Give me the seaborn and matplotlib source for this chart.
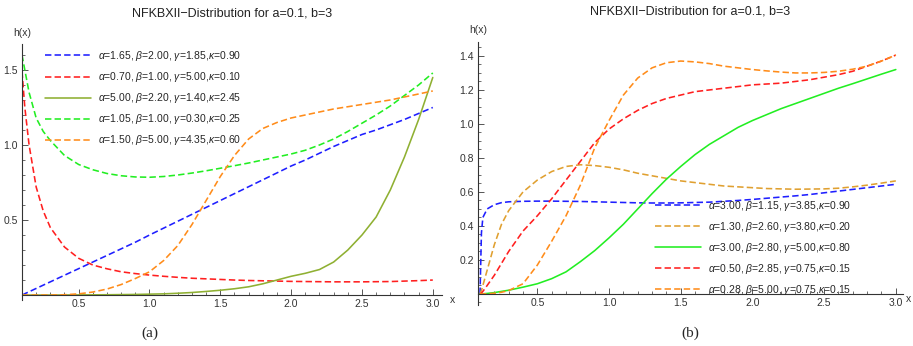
import matplotlib
matplotlib.use("Agg")
import matplotlib.pyplot as plt
import seaborn as sns
from matplotlib.ticker import MultipleLocator, FuncFormatter

# common x grid (both panels)
x_vals = [0.1, 0.11, 0.12, 0.15, 0.2, 0.25, 0.3, 0.4, 0.5, 0.6, 0.7, 0.8, 0.9, 1.0,
          1.1, 1.2, 1.3, 1.4, 1.5, 1.6, 1.7, 1.8, 1.9, 2.0, 2.1, 2.2, 2.3, 2.4, 2.5,
          2.6, 2.7, 2.8, 2.9, 3.0]

# panel (a)
a_blue = [0, 0.004, 0.009, 0.022, 0.044, 0.066, 0.088, 0.132, 0.176, 0.22, 0.264, 0.308, 0.352, 0.40,
          0.446, 0.492, 0.538, 0.584, 0.63, 0.676, 0.722, 0.768, 0.814, 0.86, 0.90, 0.945, 0.99, 1.03, 1.07,
          1.10, 1.135, 1.17, 1.21, 1.25]
a_red = [1.49, 1.37, 1.25, 1.0, 0.72, 0.56, 0.45, 0.32, 0.245, 0.2, 0.175, 0.155, 0.143, 0.133,
         0.125, 0.118, 0.112, 0.108, 0.104, 0.1, 0.097, 0.095, 0.093, 0.091, 0.09, 0.089, 0.088, 0.088, 0.088,
         0.089, 0.09, 0.093, 0.096, 0.1]
a_olive = [0, 0, 0, 0, 0, 0, 0, 0.0005, 0.001, 0.0015, 0.002, 0.003, 0.004, 0.006,
           0.008, 0.012, 0.017, 0.024, 0.032, 0.042, 0.055, 0.075, 0.1, 0.125, 0.145, 0.17, 0.22, 0.30, 0.40,
           0.52, 0.70, 0.92, 1.17, 1.45]
a_green = [1.6, 1.55, 1.5, 1.35, 1.18, 1.09, 1.03, 0.93, 0.87, 0.835, 0.81, 0.795, 0.787, 0.785,
           0.79, 0.80, 0.813, 0.828, 0.845, 0.862, 0.88, 0.9, 0.92, 0.94, 0.965, 1.0, 1.04, 1.09, 1.145,
           1.2, 1.26, 1.33, 1.40, 1.48]
a_orange = [0, 0, 0, 0, 0, 0, 0, 0.002, 0.008, 0.02, 0.04, 0.07, 0.11, 0.155,
            0.23, 0.33, 0.47, 0.63, 0.79, 0.93, 1.04, 1.11, 1.15, 1.18, 1.20, 1.22, 1.24, 1.255, 1.27,
            1.285, 1.30, 1.32, 1.34, 1.36]
a_labels = [r"$\alpha$=1.65, $\beta$=2.00, $\gamma$=1.85,$\kappa$=0.90",
            r"$\alpha$=0.70, $\beta$=1.00, $\gamma$=5.00,$\kappa$=0.10",
            r"$\alpha$=5.00, $\beta$=2.20, $\gamma$=1.40,$\kappa$=2.45",
            r"$\alpha$=1.05, $\beta$=1.00, $\gamma$=0.30,$\kappa$=0.25",
            r"$\alpha$=1.50, $\beta$=5.00, $\gamma$=4.35,$\kappa$=0.60"]

# panel (b)
b_blue = [0, 0.36, 0.45, 0.5, 0.525, 0.537, 0.542, 0.545, 0.546, 0.546, 0.545, 0.544, 0.542, 0.54,
          0.538, 0.536, 0.535, 0.535, 0.536, 0.538, 0.54, 0.545, 0.55, 0.556, 0.563, 0.57, 0.577, 0.585, 0.595,
          0.605, 0.615, 0.625, 0.635, 0.645]
b_gold = [0, 0.02, 0.05, 0.14, 0.29, 0.41, 0.49, 0.6, 0.67, 0.72, 0.75, 0.76, 0.755, 0.745,
          0.73, 0.71, 0.695, 0.68, 0.665, 0.655, 0.645, 0.635, 0.63, 0.625, 0.62, 0.618, 0.616, 0.617, 0.618,
          0.622, 0.63, 0.64, 0.652, 0.665]
b_green = [0, 0.0005, 0.001, 0.003, 0.008, 0.015, 0.022, 0.04, 0.06, 0.09, 0.13, 0.19, 0.255, 0.33,
           0.41, 0.5, 0.59, 0.675, 0.75, 0.82, 0.88, 0.93, 0.98, 1.02, 1.055, 1.09, 1.12, 1.15, 1.18,
           1.21, 1.237, 1.265, 1.293, 1.32]
b_red = [0, 0.005, 0.015, 0.05, 0.11, 0.18, 0.25, 0.37, 0.46, 0.56, 0.67, 0.78, 0.89, 0.97,
         1.03, 1.08, 1.12, 1.15, 1.17, 1.19, 1.2, 1.21, 1.22, 1.23, 1.235, 1.24, 1.25, 1.26, 1.275,
         1.29, 1.31, 1.34, 1.37, 1.405]
b_orange = [0, 0, 0, 0.001, 0.004, 0.01, 0.02, 0.06, 0.17, 0.31, 0.46, 0.64, 0.86, 1.02,
            1.17, 1.27, 1.33, 1.36, 1.37, 1.365, 1.355, 1.34, 1.33, 1.32, 1.312, 1.305, 1.30, 1.30, 1.303,
            1.31, 1.322, 1.34, 1.37, 1.405]
b_labels = [r"$\alpha$=3.00, $\beta$=1.15, $\gamma$=3.85,$\kappa$=0.90",
            r"$\alpha$=1.30, $\beta$=2.60, $\gamma$=3.80,$\kappa$=0.20",
            r"$\alpha$=3.00, $\beta$=2.80, $\gamma$=5.00,$\kappa$=0.80",
            r"$\alpha$=0.50, $\beta$=2.85, $\gamma$=0.75,$\kappa$=0.15",
            r"$\alpha$=0.28, $\beta$=5.00, $\gamma$=0.75,$\kappa$=0.15"]

title = "NFKBXII\u2212Distribution for a=0.1, b=3"
DASH = (0, (4, 2))

sns.set_style("white")
plt.rcParams['font.family'] = ['Liberation Sans', 'DejaVu Sans']
plt.rcParams['mathtext.fontset'] = 'custom'
plt.rcParams['mathtext.rm'] = 'Liberation Sans'
plt.rcParams['mathtext.it'] = 'Liberation Sans:italic'


def draw_panel(ax, series, labels, xlim, ylim, ymajor, yminor, xlab_pos):
    for (y, color, ls), lab in zip(series, labels):
        sns.lineplot(x=x_vals, y=y, ax=ax, color=color, linestyle=ls, lw=1.15, label=lab)
    ax.set_xlim(*xlim)
    ax.set_ylim(*ylim)
    ax.spines['bottom'].set_position(('data', 0))
    for s in ['top', 'right']:
        ax.spines[s].set_visible(False)
    for s in ['left', 'bottom']:
        ax.spines[s].set_color('#333333')
        ax.spines[s].set_linewidth(0.8)
    ax.xaxis.set_major_locator(MultipleLocator(0.5))
    ax.xaxis.set_minor_locator(MultipleLocator(0.1))
    ax.yaxis.set_major_locator(MultipleLocator(ymajor))
    ax.yaxis.set_minor_locator(MultipleLocator(yminor))
    fmt = FuncFormatter(lambda v, p: '' if abs(v) < 1e-9 else f'{v:.1f}')
    ax.xaxis.set_major_formatter(fmt)
    ax.yaxis.set_major_formatter(fmt)
    ax.tick_params(which='both', bottom=True, left=True, top=False, right=False)
    ax.tick_params(which='major', direction='in', length=4, width=0.7, color='#555555',
                   labelsize=7.5, labelcolor='#333333', pad=3)
    ax.tick_params(which='minor', direction='in', length=2.2, width=0.6, color='#555555')
    ax.set_xlabel('')
    ax.set_ylabel('')
    ax.text(0, 1.025, 'h(x)', transform=ax.transAxes, ha='center', va='bottom',
            fontsize=7.5, color='#333333')
    ax.annotate('x', xy=(xlab_pos, 0), xycoords=('axes fraction', 'data'), ha='center',
                va='top', fontsize=7.5, color='#333333')
    ax.set_title(title, fontsize=9, pad=19.5, color='#222222')


fig = plt.figure(figsize=(9.13, 3.46), dpi=100)
ax_a = fig.add_axes([22 / 913, 46 / 346, 420 / 913, 256 / 346])
ax_b = fig.add_axes([478 / 913, 41 / 346, 425 / 913, 263 / 346])

series_a = [(a_blue, '#1f1fff', DASH), (a_red, '#ff1f1f', DASH), (a_olive, '#8fb032', '-'),
            (a_green, '#22ee22', DASH), (a_orange, '#ff8c1a', DASH)]
series_b = [(b_blue, '#1f1fff', DASH), (b_gold, '#e0a030', DASH), (b_green, '#22ee22', '-'),
            (b_red, '#ff1f1f', DASH), (b_orange, '#ff8c1a', DASH)]

draw_panel(ax_a, series_a, a_labels, (0.1, 3.065), (-0.033, 1.673), 0.5, 0.1, 1.024)
draw_panel(ax_b, series_b, b_labels, (0.086, 3.05), (-0.065, 1.482), 0.2, 0.05, 1.012)

leg_kw = dict(frameon=False, fontsize=7.5, handlelength=4.4, handletextpad=0.7,
              labelspacing=0.68, borderpad=0, borderaxespad=0)
ax_a.legend(loc='upper left', bbox_to_anchor=(0.055, 0.98), **leg_kw)
ax_b.legend(loc='lower left', bbox_to_anchor=(0.416, 0.03), **leg_kw)

fig.text(150 / 913, 1 - 333 / 346, '(a)', family='Liberation Serif', fontsize=11,
         ha='center', va='center')
fig.text(690 / 913, 1 - 333 / 346, '(b)', family='Liberation Serif', fontsize=11,
         ha='center', va='center')

fig.savefig('out.png', dpi=100)
